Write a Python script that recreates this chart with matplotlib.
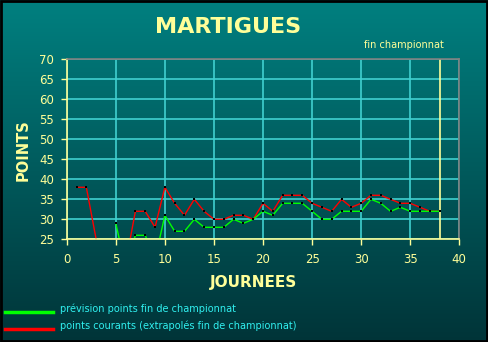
import numpy as np
import matplotlib
matplotlib.use('Agg')
import matplotlib.pyplot as plt
from matplotlib.lines import Line2D

nan = np.nan
journees = list(range(1, 39))
# points courants (extrapolés) - red
courants = [38, 38, 25, 21, 18, 19, 32, 32, 28, 38, 34, 31, 35, 32, 30, 30, 31, 31, 30, 34,
            32, 36, 36, 36, 34, 33, 32, 35, 33, 34, 36, 36, 35, 34, 34, 33, 32, 32]
# prévision points fin de championnat - green
prevision = [nan, nan, nan, nan, 29, 18, 26, 26, 20, 31, 27, 27, 30, 28, 28, 28, 30, 29, 30, 32,
             31, 34, 34, 34, 32, 30, 30, 32, 32, 32, 35, 34, 32, 33, 32, 32, 32, 32]
xticks = [0, 5, 10, 15, 20, 25, 30, 35, 40]
yticks = [25, 30, 35, 40, 45, 50, 55, 60, 65, 70]

yel = '#ffff99'
cyan = '#40d0d0'

fig = plt.figure(figsize=(4.88, 3.42), dpi=100)

# background gradient
bg = fig.add_axes([0, 0, 1, 1], zorder=-10)
grad = np.linspace(0, 1, 256).reshape(-1, 1)
top = np.array([0, 128, 128]) / 255
bot = np.array([0, 52, 56]) / 255
img = top + (bot - top) * grad[:, :, None]
bg.imshow(img, aspect='auto', extent=[0, 1, 0, 1])
bg.set_xlim(0, 1)
bg.set_ylim(0, 1)
bg.axis('off')
bg.add_patch(plt.Rectangle((0.002, 0.003), 0.996, 0.994, fill=False, ec='black', lw=2))

ax = fig.add_axes([0.1367, 0.3003, 0.8045, 0.5263])
ax.set_facecolor('none')
ax.set_xlim(0, 40)
ax.set_ylim(25, 70)
ax.set_xticks(xticks)
ax.set_yticks(yticks)
ax.grid(True, color=cyan, lw=1.2)
ax.set_axisbelow(True)
for s in ['left', 'bottom']:
    ax.spines[s].set_color(yel)
    ax.spines[s].set_linewidth(1.2)
for s in ['top', 'right']:
    ax.spines[s].set_color('#808080')
    ax.spines[s].set_linewidth(1.2)
ax.tick_params(colors=yel, labelsize=8.5, length=4, width=1, direction='out')
ax.tick_params(axis='x', pad=6)
ax.tick_params(axis='y', pad=5)

ax.axvline(38, color=yel, lw=1.2)

ax.plot(journees, courants, color='#ff0000', lw=1, marker='s', ms=1.8, mew=0, mfc='black')
ax.plot(journees, prevision, color='#00ff00', lw=1, marker='s', ms=1.8, mew=0, mfc='black')

fig.text(0.467, 0.922, 'MARTIGUES', color=yel, fontsize=16, fontweight='bold', ha='center', va='center')
fig.text(0.746, 0.868, 'fin championnat', color=yel, fontsize=7, ha='left', va='center')
fig.text(0.048, 0.56, 'POINTS', color=yel, fontsize=10.5, fontweight='bold', rotation=90, ha='center', va='center')
fig.text(0.52, 0.175, 'JOURNEES', color=yel, fontsize=11, fontweight='bold', ha='center', va='center')

fig.add_artist(Line2D([0.011, 0.108], [0.087, 0.087], color='#00ff00', lw=2.5))
fig.add_artist(Line2D([0.011, 0.108], [0.037, 0.037], color='#ff0000', lw=2.5))
fig.text(0.123, 0.097, 'prévision points fin de championnat', color='#30f0f0', fontsize=7, ha='left', va='center')
fig.text(0.123, 0.048, 'points courants (extrapolés fin de championnat)', color='#30f0f0', fontsize=7, ha='left', va='center')

fig.savefig('out.png', dpi=100)
